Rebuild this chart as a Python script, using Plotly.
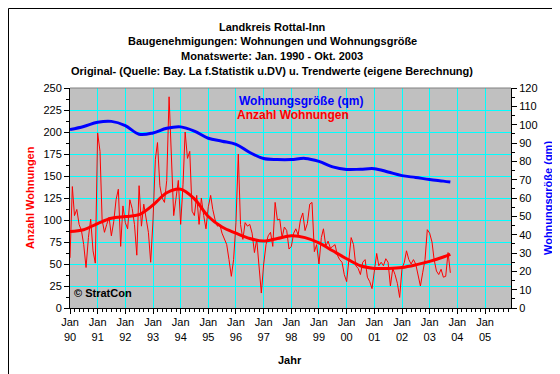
import pandas as pd
import plotly.graph_objects as go

# ---- data ----
raw_start = "1990-01-01"
anzahl_wohnungen = [
    57, 138, 105, 112, 95, 88, 72, 46, 80, 101, 65, 51,
    199, 178, 100, 86, 95, 103, 82, 98, 123, 135, 70, 116,
    97, 90, 123, 113, 95, 60, 139, 93, 118, 103, 86, 52,
    100, 169, 188, 139, 125, 120, 145, 240, 165, 105, 125, 145,
    95, 140, 200, 170, 178, 110, 105, 128, 95, 125, 105, 90,
    115, 128, 112, 100, 93, 95, 85, 78, 72, 55, 36, 55,
    97, 175, 95, 78, 97, 93, 95, 85, 63, 78, 44, 17,
    50, 72, 82, 86, 70, 120, 100, 101, 80, 92, 88, 67,
    70, 85, 90, 83, 100, 108, 88, 96, 118, 120, 64, 72,
    50, 80, 90, 70, 76, 68, 70, 72, 60, 55, 52, 38,
    30, 60, 80, 72, 48, 45, 38, 52, 55, 35, 30, 22,
    40, 62, 48, 52, 48, 56, 52, 25, 45, 38, 28, 12,
    45, 52, 65, 55, 50, 55, 50, 38, 25, 40, 55, 89,
    85, 75, 55, 42, 38, 44, 35, 36, 63, 40,
]

trend_dates = [
    "1990-01-01", "1990-07-01", "1991-01-01", "1991-07-01", "1992-01-01", "1992-07-01",
    "1993-01-01", "1993-07-01", "1994-01-01", "1994-07-01", "1995-01-01", "1995-07-01",
    "1996-01-01", "1996-07-01", "1997-01-01", "1997-07-01", "1998-01-01", "1998-07-01",
    "1999-01-01", "1999-07-01", "2000-01-01", "2000-07-01", "2001-01-01", "2001-07-01",
    "2002-01-01", "2002-07-01", "2003-01-01", "2003-07-01", "2003-10-01",
]
trend_anzahl = [
    87, 89, 96, 102, 104, 106, 117, 131, 135, 124, 104, 92,
    85, 79, 76, 79, 82, 80, 74, 65, 56, 48, 45, 45,
    46, 49, 53, 58, 61,
]
trend_groesse = [
    97.3, 99.0, 101.3, 101.8, 99.5, 94.8, 95.5, 98.0, 98.8, 96.5, 92.6, 91.0,
    89.3, 84.8, 81.5, 81.0, 81.0, 81.6, 80.0, 77.0, 75.6, 75.7, 76.0, 74.2,
    72.2, 71.2, 70.1, 69.2, 68.7,
]

year_ticks = list(range(1990, 2006))
tick_labels = ["Jan<br>%02d" % (y % 100) for y in year_ticks]

title_lines = [
    "Landkreis Rottal-Inn",
    "Baugenehmigungen: Wohnungen und Wohnungsgröße",
    "Monatswerte: Jan. 1990 - Okt. 2003",
    "Original- (Quelle: Bay. La f.Statistik u.DV) u. Trendwerte (eigene Berechnung)",
]

# ---- figure ----
raw_dates = pd.date_range(raw_start, periods=len(anzahl_wohnungen), freq="MS")
tick_vals = [pd.Timestamp(f"{y}-01-01") for y in year_ticks]

RED = "#ff0000"
BLUE = "#0000ff"
FONT = "Liberation Sans, Arial, sans-serif"

fig = go.Figure()
fig.add_trace(go.Scatter(x=raw_dates, y=anzahl_wohnungen, mode="lines",
                         line=dict(color=RED, width=1), showlegend=False))
fig.add_trace(go.Scatter(x=pd.to_datetime(trend_dates), y=trend_anzahl, mode="lines",
                         line=dict(color=RED, width=3, shape="spline"), showlegend=False))
fig.add_trace(go.Scatter(x=pd.to_datetime(trend_dates), y=trend_groesse, mode="lines",
                         line=dict(color=BLUE, width=3, shape="spline"), yaxis="y2",
                         showlegend=False))

L, R, T, B = 62, 57, 80, 74
W, H = 560, 374
pw, ph = W - L - R, H - T - B


def px(xp):
    return (xp - L) / pw


def py(yp):
    return (H - B - yp) / ph


fig.update_layout(
    width=W, height=H,
    margin=dict(l=L, r=R, t=T, b=B),
    paper_bgcolor="white",
    plot_bgcolor="#c0c0c0",
    font=dict(family=FONT, size=11, color="black"),
    showlegend=False,
    xaxis=dict(
        type="date",
        range=["1990-01-01", "2005-12-10"],
        tickmode="array", tickvals=tick_vals, ticktext=tick_labels,
        ticks="outside", ticklen=5, tickcolor="black",
        ticklabelstandoff=-1,
        showline=True, linecolor="black", linewidth=1,
        showgrid=True, gridcolor="#00ffff", gridwidth=1,
        zeroline=False,
        minor=dict(dtick="M2", tick0="1990-01-01", ticks="outside", ticklen=3,
                   tickcolor="black", showgrid=False),
        tickfont=dict(size=11),
    ),
    yaxis=dict(
        range=[0, 250], dtick=25, tick0=0,
        ticks="outside", ticklen=5, tickcolor="black",
        showline=True, linecolor="black", linewidth=1,
        showgrid=True, gridcolor="#00ffff", gridwidth=1,
        zeroline=False,
        minor=dict(dtick=12.5, ticks="outside", ticklen=3, tickcolor="black", showgrid=False),
        tickfont=dict(size=11),
    ),
    yaxis2=dict(
        range=[0, 120], dtick=10, tick0=0, overlaying="y", side="right",
        ticks="outside", ticklen=5, tickcolor="black",
        showline=True, linecolor="black", linewidth=1,
        showgrid=False, zeroline=False,
        minor=dict(dtick=5, ticks="outside", ticklen=3, tickcolor="black", showgrid=False),
        tickfont=dict(size=11),
    ),
)

annotations = []
for i, (line, ypix) in enumerate(zip(title_lines, [19, 33, 48, 63])):
    annotations.append(dict(text="<b>%s</b>" % line, xref="paper", yref="paper",
                            x=px(264), y=py(ypix), xanchor="center", yanchor="middle",
                            showarrow=False, font=dict(size=11, color="black")))
annotations += [
    dict(text="<b>Wohnungsgröße (qm)</b>", xref="paper", yref="paper", x=px(229), y=py(93),
         xanchor="left", yanchor="middle", showarrow=False, font=dict(size=12, color=BLUE)),
    dict(text="<b>Anzahl Wohnungen</b>", xref="paper", yref="paper", x=px(227), y=py(107),
         xanchor="left", yanchor="middle", showarrow=False, font=dict(size=12, color=RED)),
    dict(text="<b>© StratCon</b>", xref="paper", yref="paper", x=px(64), y=py(285),
         xanchor="left", yanchor="middle", showarrow=False, font=dict(size=11, color="black")),
    dict(text="<b>Anzahl Wohnungen</b>", xref="paper", yref="paper", x=px(22), y=py(190),
         xanchor="center", yanchor="middle", textangle=-90, showarrow=False,
         font=dict(size=11, color=RED)),
    dict(text="<b>Wohnungsgröße (qm)</b>", xref="paper", yref="paper", x=px(540), y=py(190),
         xanchor="center", yanchor="middle", textangle=-90, showarrow=False,
         font=dict(size=11, color=BLUE)),
    dict(text="<b>Jahr</b>", xref="paper", yref="paper", x=px(282), y=py(352),
         xanchor="center", yanchor="middle", showarrow=False, font=dict(size=11, color="black")),
]
fig.update_layout(annotations=annotations)

fig.update_layout(shapes=[
    dict(type="line", xref="paper", yref="paper", x0=0, x1=1, y0=1, y1=1,
         line=dict(color="#808080", width=1)),
    dict(type="rect", xref="paper", yref="paper",
         x0=px(0.5), x1=px(559.5), y0=py(0.5), y1=py(373.5),
         line=dict(color="black", width=1), fillcolor="rgba(0,0,0,0)"),
])

fig.write_html("out.html")
